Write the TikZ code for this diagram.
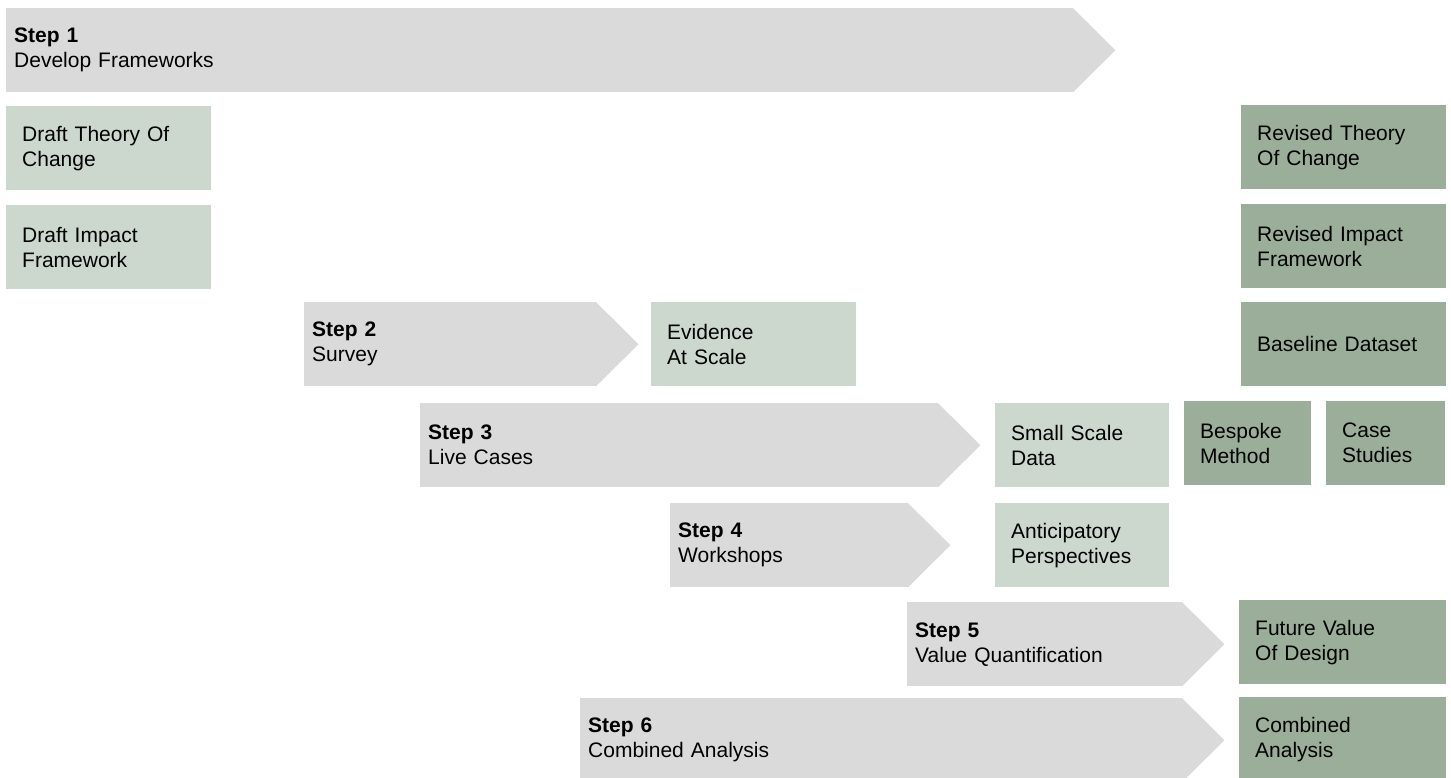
\documentclass[tikz,border=0pt]{standalone}
\usepackage{fontspec}
\setmainfont{Liberation Sans}
\usepackage{xcolor}
\usepackage{tikz}

\definecolor{stepgray}{HTML}{DADADA}
\definecolor{draftgreen}{HTML}{CCD7CE}
\definecolor{finalgreen}{HTML}{9BAE99}

\begin{document}
\begin{tikzpicture}[
    x=1pt, y=-1pt,
    every node/.style={font=\fontsize{21}{25}\selectfont},
    stepbody/.style={rectangle, fill=stepgray, anchor=north west, minimum height=84pt, inner xsep=8pt, inner ysep=0pt, align=left, text width=#1},
    outbox/.style={rectangle, anchor=north west, minimum height=84pt, inner xsep=16pt, inner ysep=0pt, align=left, text width=#1}
]
    \useasboundingbox (0,0) rectangle (1451,778);

    % Steps
    \node[stepbody=1051pt] (step1) at (6,8) {\textbf{Step 1}\\Develop Frameworks};
    \node[stepbody=276pt] (step2) at (304,302) {\textbf{Step 2}\\Survey};
    \node[stepbody=502pt] (step3) at (420,403) {\textbf{Step 3}\\Live Cases};
    \node[stepbody=222pt] (step4) at (670,503) {\textbf{Step 4}\\Workshops};
    \node[stepbody=259pt] (step5) at (907,602) {\textbf{Step 5}\\Value Quantification};
    \node[stepbody=586pt] (step6) at (580,698) {\textbf{Step 6}\\Combined Analysis};

    % Arrow heads
    \fill[stepgray] ([xshift=-0.5pt]step1.north east) -- ([xshift=42pt]step1.east) -- ([xshift=-0.5pt]step1.south east) -- cycle;
    \fill[stepgray] ([xshift=-0.5pt]step2.north east) -- ([xshift=42pt]step2.east) -- ([xshift=-0.5pt]step2.south east) -- cycle;
    \fill[stepgray] ([xshift=-0.5pt]step3.north east) -- ([xshift=42pt]step3.east) -- ([xshift=-0.5pt]step3.south east) -- cycle;
    \fill[stepgray] ([xshift=-0.5pt]step4.north east) -- ([xshift=42pt]step4.east) -- ([xshift=-0.5pt]step4.south east) -- cycle;
    \fill[stepgray] ([xshift=-0.5pt]step5.north east) -- ([xshift=42pt]step5.east) -- ([xshift=-0.5pt]step5.south east) -- cycle;
    \fill[stepgray] ([xshift=-0.5pt]step6.north east) -- ([xshift=42pt]step6.east) -- ([xshift=-0.5pt]step6.south east) -- cycle;

    % Draft outputs
    \node[outbox=173pt, fill=draftgreen] (draft-toc) at (6,106) {Draft Theory Of\\Change};
    \node[outbox=173pt, fill=draftgreen] (draft-impact) at (6,205) {Draft Impact\\Framework};
    \node[outbox=173pt, fill=draftgreen] (evidence) at (651,302) {Evidence\\At Scale};
    \node[outbox=142pt, fill=draftgreen] (small-data) at (995,403) {Small Scale\\Data};
    \node[outbox=142pt, fill=draftgreen] (anticipatory) at (995,503) {Anticipatory\\Perspectives};

    % Final outputs
    \node[outbox=173pt, fill=finalgreen] (revised-toc) at (1241,105) {Revised Theory\\Of Change};
    \node[outbox=173pt, fill=finalgreen] (revised-impact) at (1241,204) {Revised Impact\\Framework};
    \node[outbox=173pt, fill=finalgreen] (baseline) at (1241,302) {Baseline Dataset};
    \node[outbox=95pt, fill=finalgreen] (bespoke) at (1184,401) {Bespoke\\Method};
    \node[outbox=87pt, fill=finalgreen] (case-studies) at (1326,401) {Case\\Studies};
    \node[outbox=175pt, fill=finalgreen] (future-value) at (1239,600) {Future Value\\Of Design};
    \node[outbox=175pt, fill=finalgreen] (combined) at (1239,697) {Combined\\Analysis};
\end{tikzpicture}
\end{document}
